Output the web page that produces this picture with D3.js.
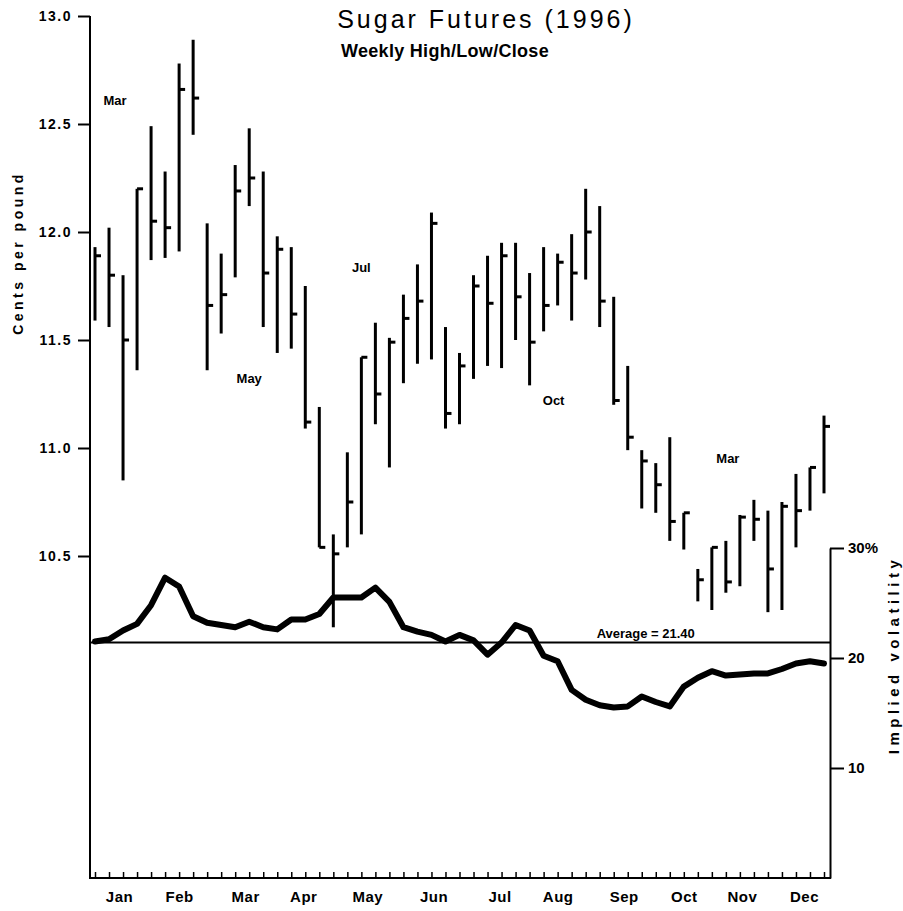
<!DOCTYPE html>
<html lang="en">
<head>
<meta charset="UTF-8" />
<title>Sugar Futures (1996)</title>
<script src="https://d3js.org/d3.v7.min.js"></script>
<style>
  body { margin: 0; background: #fff; }
  svg { display: block; font-family: "Liberation Sans", Arial, Helvetica, sans-serif; }
  .lbl { font-weight: bold; fill: #000; }
</style>
</head>
<body>
<div id="chart"></div>
<script>
// weekly high / low / close, cents per pound (one bar per week of 1996)
var highs = [11.93, 12.02, 11.80, 12.20, 12.49, 12.28, 12.78, 12.89, 12.04, 11.90,
             12.31, 12.48, 12.28, 11.98, 11.93, 11.75, 11.19, 10.60, 10.98, 11.42,
             11.58, 11.51, 11.71, 11.85, 12.09, 11.56, 11.44, 11.80, 11.89, 11.95,
             11.95, 11.81, 11.93, 11.90, 11.99, 12.20, 12.12, 11.70, 11.38, 10.99,
             10.93, 11.05, 10.70, 10.44, 10.54, 10.57, 10.69, 10.76, 10.71, 10.75,
             10.88, 10.91, 11.15];
var lows  = [11.59, 11.56, 10.85, 11.36, 11.87, 11.88, 11.91, 12.45, 11.36, 11.53,
             11.79, 12.12, 11.56, 11.44, 11.46, 11.09, 10.54, 10.17, 10.54, 10.60,
             11.11, 10.91, 11.30, 11.39, 11.41, 11.09, 11.11, 11.32, 11.38, 11.37,
             11.50, 11.29, 11.54, 11.66, 11.59, 11.78, 11.56, 11.20, 10.99, 10.72,
             10.70, 10.57, 10.53, 10.29, 10.25, 10.33, 10.36, 10.57, 10.24, 10.25,
             10.54, 10.71, 10.79];
var closes = [11.89, 11.80, 11.50, 12.20, 12.05, 12.02, 12.66, 12.62, 11.66, 11.71,
              12.19, 12.25, 11.81, 11.92, 11.62, 11.12, 10.54, 10.51, 10.75, 11.42,
              11.25, 11.49, 11.60, 11.68, 12.04, 11.16, 11.38, 11.75, 11.67, 11.89,
              11.70, 11.49, 11.66, 11.86, 11.81, 12.00, 11.68, 11.22, 11.05, 10.94,
              10.83, 10.66, 10.70, 10.39, 10.54, 10.38, 10.68, 10.67, 10.44, 10.73,
              10.71, 10.91, 11.10];
// implied volatility, percent
var vol = [21.5, 21.7, 22.5, 23.1, 24.8, 27.3, 26.5, 23.8, 23.2, 23.0,
           22.8, 23.3, 22.8, 22.6, 23.5, 23.5, 24.0, 25.5, 25.5, 25.5,
           26.4, 25.1, 22.8, 22.4, 22.1, 21.5, 22.1, 21.6, 20.3, 21.4,
           23.0, 22.5, 20.2, 19.7, 17.1, 16.2, 15.7, 15.5, 15.6, 16.5,
           16.0, 15.6, 17.4, 18.2, 18.8, 18.4, 18.5, 18.6, 18.6, 19.0,
           19.5, 19.7, 19.5];
var avgVol = 21.40;

// week starts (Mondays of 1996)
var weeks = d3.timeMonday.range(new Date(1996, 0, 1), new Date(1997, 0, 1));

// month labels and where they sit
var monthNames = ["Jan", "Feb", "Mar", "Apr", "May", "Jun", "Jul", "Aug", "Sep", "Oct", "Nov", "Dec"];
var monthDates = ["1996-01-13", "1996-02-12", "1996-03-16", "1996-04-14", "1996-05-16", "1996-06-18",
                  "1996-07-21", "1996-08-19", "1996-09-21", "1996-10-21", "1996-11-19", "1996-12-20"];
var priceTicks = [10.5, 11.0, 11.5, 12.0, 12.5, 13.0];
var volTicks = [10, 20, 30];

// contract month notes
var contractNames = ["Mar", "May", "Jul", "Oct", "Mar"];
var contractDates = ["1996-01-11", "1996-03-18", "1996-05-13", "1996-08-17", "1996-11-12"];
var contractPrices = [12.59, 11.30, 11.815, 11.20, 10.93];

var parse = d3.timeParse("%Y-%m-%d");
var W = 903, H = 911;
var left = 90, right = 830, bottom = 878;

var svg = d3.select("#chart").append("svg")
    .attr("width", W).attr("height", H);

var x = d3.scaleTime()
    .domain([new Date(1996, 0, 1), new Date(1996, 11, 30)])
    .range([95, 824]);
var y = d3.scaleLinear().domain([10.5, 13.0]).range([556, 16]);
var vy = d3.scaleLinear().domain([0, 30]).range([bottom, 548]);

// title
svg.append("text")
    .attr("x", 486).attr("y", 28)
    .attr("text-anchor", "middle")
    .style("font-size", "25px").style("letter-spacing", "3px")
    .text("Sugar Futures (1996)");
svg.append("text").attr("class", "lbl")
    .attr("x", 445).attr("y", 57)
    .attr("text-anchor", "middle")
    .style("font-size", "18px").style("letter-spacing", "0.3px")
    .text("Weekly High/Low/Close");

// left axis
svg.append("line")
    .attr("x1", left).attr("x2", left).attr("y1", 16).attr("y2", bottom)
    .attr("stroke", "#000").attr("stroke-width", 2);
var gy = svg.append("g")
    .attr("transform", "translate(" + left + ",0)")
    .call(d3.axisLeft(y).tickValues(priceTicks).tickFormat(d3.format(".1f"))
          .tickSize(12).tickSizeOuter(0).tickPadding(6));
gy.select(".domain").remove();
gy.selectAll(".tick line").attr("stroke-width", 2);
gy.selectAll(".tick text").attr("class", "lbl")
    .style("font-size", "14px").style("letter-spacing", "1.5px")
    .style("font-family", "inherit");

svg.append("text").attr("class", "lbl")
    .attr("transform", "translate(23,253) rotate(-90)")
    .attr("text-anchor", "middle")
    .style("font-size", "14px").style("letter-spacing", "3.5px")
    .text("Cents per pound");

// right axis (volatility)
var gr = svg.append("g")
    .attr("transform", "translate(" + right + ",0)")
    .call(d3.axisRight(vy).tickValues(volTicks)
          .tickFormat(function(d) { return d === 30 ? "30%" : d; })
          .tickSize(14).tickSizeOuter(0).tickPadding(4));
gr.select(".domain").attr("stroke-width", 2);
gr.selectAll(".tick line").attr("stroke-width", 2);
gr.selectAll(".tick text").attr("class", "lbl")
    .style("font-size", "15px").style("font-family", "inherit");

svg.append("text").attr("class", "lbl")
    .attr("transform", "translate(899,655) rotate(-90)")
    .attr("text-anchor", "middle")
    .style("font-size", "15px").style("letter-spacing", "4.5px")
    .text("Implied volatility");

// bottom axis: weekly ticks pointing up
svg.append("line")
    .attr("x1", left - 1).attr("x2", right + 1).attr("y1", bottom).attr("y2", bottom)
    .attr("stroke", "#000").attr("stroke-width", 2);
var gx = svg.append("g")
    .attr("transform", "translate(0," + bottom + ")")
    .call(d3.axisBottom(x).tickValues(weeks).tickFormat("").tickSize(-6).tickSizeOuter(0));
gx.select(".domain").remove();
gx.selectAll(".tick line").attr("stroke-width", 1.5);

var gm = svg.append("g")
    .attr("transform", "translate(0," + bottom + ")")
    .call(d3.axisBottom(x).tickValues(monthDates.map(parse))
          .tickFormat(function(d, i) { return monthNames[i]; })
          .tickSize(0).tickPadding(13));
gm.select(".domain").remove();
gm.selectAll(".tick text").attr("class", "lbl")
    .style("font-size", "15px").style("letter-spacing", "0.5px")
    .style("font-family", "inherit");

// average volatility line
svg.append("line")
    .attr("x1", left).attr("x2", right)
    .attr("y1", vy(avgVol)).attr("y2", vy(avgVol))
    .attr("stroke", "#000").attr("stroke-width", 2);
svg.append("text").attr("class", "lbl")
    .attr("x", x(parse("1996-10-02"))).attr("y", vy(avgVol) - 5)
    .attr("text-anchor", "middle")
    .style("font-size", "13px")
    .text("Average = " + avgVol.toFixed(2));

// volatility line
var line = d3.line()
    .x(function(d, i) { return x(weeks[i]); })
    .y(function(d) { return vy(d); });
svg.append("path")
    .datum(vol)
    .attr("d", line)
    .attr("fill", "none")
    .attr("stroke", "#000")
    .attr("stroke-width", 6)
    .attr("stroke-linejoin", "round")
    .attr("stroke-linecap", "round");

// high-low bars
var bars = svg.append("g");
bars.selectAll("line.hl")
    .data(weeks)
    .enter().append("line")
    .attr("class", "hl")
    .attr("x1", function(d) { return x(d); })
    .attr("x2", function(d) { return x(d); })
    .attr("y1", function(d, i) { return y(highs[i]); })
    .attr("y2", function(d, i) { return y(lows[i]); })
    .attr("stroke", "#000").attr("stroke-width", 3);

// close ticks
bars.selectAll("line.cl")
    .data(weeks)
    .enter().append("line")
    .attr("class", "cl")
    .attr("x1", function(d) { return x(d); })
    .attr("x2", function(d) { return x(d) + 6; })
    .attr("y1", function(d, i) { return y(closes[i]); })
    .attr("y2", function(d, i) { return y(closes[i]); })
    .attr("stroke", "#000").attr("stroke-width", 3);

// contract month notes
svg.selectAll("text.contract")
    .data(contractNames)
    .enter().append("text")
    .attr("class", "contract lbl")
    .attr("x", function(d, i) { return x(parse(contractDates[i])); })
    .attr("y", function(d, i) { return y(contractPrices[i]); })
    .attr("text-anchor", "middle")
    .style("font-size", "13px")
    .text(function(d) { return d; });
</script>
</body>
</html>
